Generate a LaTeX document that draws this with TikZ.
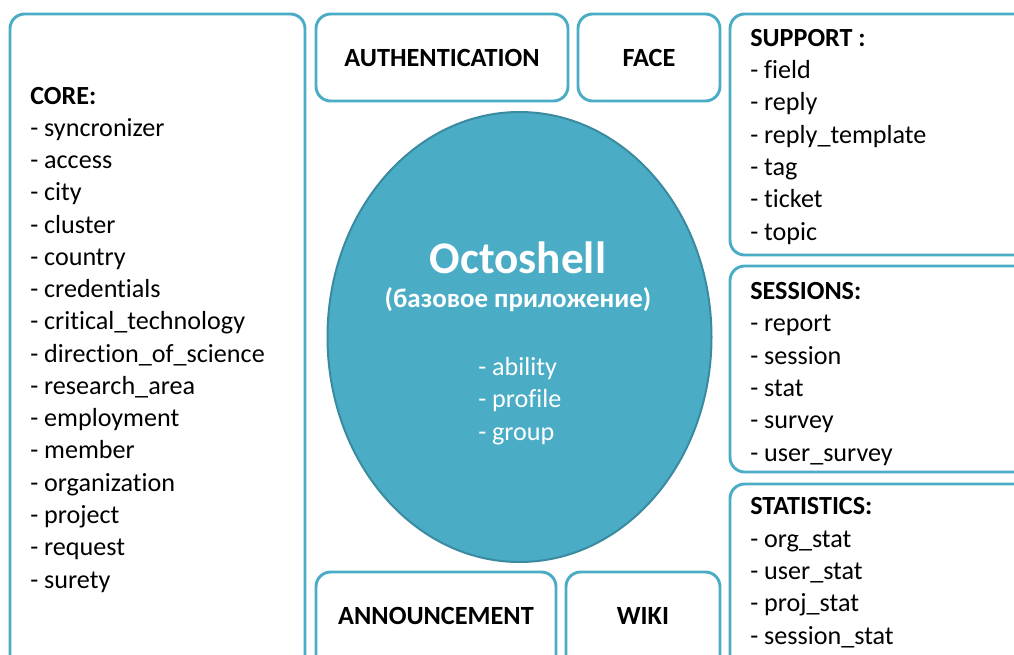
\documentclass[tikz,border=0pt]{standalone}
\usepackage{fontspec}
\setmainfont[Ligatures={NoCommon}]{Carlito}
\usetikzlibrary{shapes.geometric}
\definecolor{boxcol}{HTML}{4BACC6}
\definecolor{ellcol}{HTML}{4BACC6}
\definecolor{elledge}{HTML}{3A8AA0}
\begin{document}
\begin{tikzpicture}[x=0.75pt,y=-0.75pt,
  modbox/.style={draw=boxcol,line width=2.2pt,rounded corners=11pt,fill=white},
  listtext/.style={anchor=base west,inner sep=0pt,align=left,font=\fontsize{19.6}{24.2}\selectfont},
  titletext/.style={inner sep=0pt,font=\fontsize{19.7}{23}\selectfont\bfseries}]
\useasboundingbox (0,0) rectangle (1014,654);
\clip (0,0) rectangle (1014,654);
% boxes
\draw[modbox] (10,14) rectangle (305,680);
\draw[modbox] (316,14) rectangle (568,101);
\draw[modbox] (578,14) rectangle (720,101);
\draw[modbox] (730,14) rectangle (1040,255);
\draw[modbox] (730,266) rectangle (1040,472);
\draw[modbox] (730,484) rectangle (1040,680);
\draw[modbox] (316,572) rectangle (556,680);
\draw[modbox] (566,572) rectangle (720,680);
% ellipse
\node[ellipse,draw=elledge,line width=1.5pt,fill=ellcol,minimum width=288pt,minimum height=337.5pt,inner sep=0pt] (octo) at (519.5,337) {};
% titles
\node[titletext] (auth) at (442,58) {AUTHENTICATION};
\node[titletext] (face) at (649,58) {FACE};
\node[titletext] (ann) at (436,616) {ANNOUNCEMENT};
\node[titletext] (wiki) at (643,616) {WIKI};
% lists (anchored at the baseline of their last line)
\node[listtext] (core) at (30,588) {\textbf{CORE:}\\- syncronizer\\- access\\- city\\- cluster\\- country\\- credentials\\- critical\_technology\\- direction\_of\_science\\- research\_area\\- employment\\- member\\- organization\\- project\\- request\\- surety};
\node[listtext] (support) at (750,240) {\textbf{SUPPORT :}\\- field\\- reply\\- reply\_template\\- tag\\- ticket\\- topic};
\node[listtext] (sessions) at (750,461) {\textbf{SESSIONS:}\\- report\\- session\\- stat\\- survey\\- user\_survey};
\node[listtext] (stats) at (750,644) {\textbf{STATISTICS:}\\- org\_stat\\- user\_stat\\- proj\_stat\\- session\_stat};
% ellipse text
\node[inner sep=0pt,text=white,font=\fontsize{33.9}{38}\selectfont\bfseries,anchor=base] (octoname) at (518,273) {Octoshell};
\node[inner sep=0pt,text=white,font=\fontsize{20.2}{24}\selectfont\bfseries,anchor=base] (octosub) at (518,307) {(базовое приложение)};
\node[inner sep=0pt,text=white,anchor=base west,align=left,font=\fontsize{19.6}{24.2}\selectfont] (octolist) at (478,440) {- ability\\- profile\\- group};
\end{tikzpicture}
\end{document}
